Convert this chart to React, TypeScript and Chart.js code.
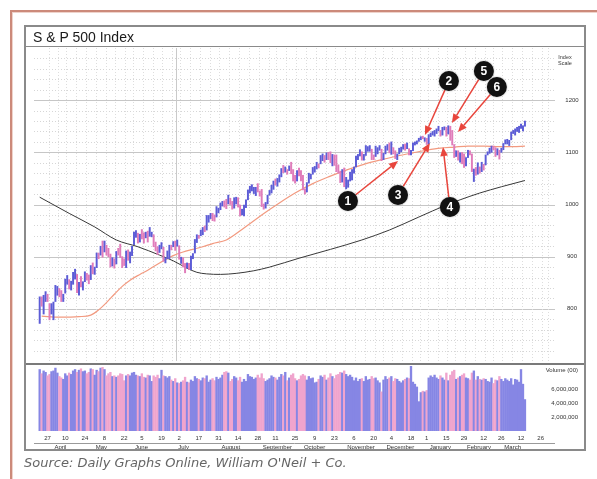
import React, { useEffect, useRef } from "react";
import { Chart, registerables } from "chart.js";

Chart.register(...registerables);

// ---------- calendar ----------
const monthKeys = ["2009-03", "2009-04", "2009-05", "2009-06", "2009-07", "2009-08", "2009-09", "2009-10", "2009-11", "2009-12", "2010-01", "2010-02", "2010-03"];
const monthLabels = ["", "April", "May", "June", "July", "August", "September", "October", "November", "December", "January", "February", "March"];
const monthDays = [
  "23 24 25 26 27 30 31",
  "1 2 3 6 7 8 9 13 14 15 16 17 20 21 22 23 24 27 28 29 30",
  "1 4 5 6 7 8 11 12 13 14 15 18 19 20 21 22 26 27 28 29",
  "1 2 3 4 5 8 9 10 11 12 15 16 17 18 19 22 23 24 25 26 29 30",
  "1 2 6 7 8 9 10 13 14 15 16 17 20 21 22 23 24 27 28 29 30 31",
  "3 4 5 6 7 10 11 12 13 14 17 18 19 20 21 24 25 26 27 28 31",
  "1 2 3 4 8 9 10 11 14 15 16 17 18 21 22 23 24 25 28 29 30",
  "1 2 5 6 7 8 9 12 13 14 15 16 19 20 21 22 23 26 27 28 29 30",
  "2 3 4 5 6 9 10 11 12 13 16 17 18 19 20 23 24 25 27 30",
  "1 2 3 4 7 8 9 10 11 14 15 16 17 18 21 22 23 24 28 29 30 31",
  "4 5 6 7 8 11 12 13 14 15 19 20 21 22 25 26 27 28 29",
  "1 2 3 4 5 8 9 10 11 12 16 17 18 19 22 23 24 25 26",
  "1 2 3 4 5 8 9 10 11 12 15 16 17 18 19 22 23 24 25 26 29 30 31",
];
const dayTickLabels = ["27", "10", "24", "8", "22", "5", "19", "2", "17", "31", "14", "28", "11", "25", "9", "23", "6", "20", "4", "18", "1", "15", "29", "12", "26", "12", "26"];
const solidLineDates = ["2009-06-30"];

// ---------- daily price (S&P 500) ----------
const lows = [
  772, 805, 790, 814, 814, 779, 790,
  779, 814, 826, 823, 814, 814, 830, 847, 838, 836, 847, 857, 831, 826, 842, 836, 852, 855, 848, 856, 867,
  866, 879, 896, 903, 899, 909, 903, 900, 880, 882, 878, 886, 903, 898, 879, 883, 879, 893, 888, 902,
  923, 937, 926, 928, 934, 926, 936, 928, 939, 938, 919, 911, 904, 908, 915, 891, 888, 896, 896, 913, 919, 912,
  920, 895, 887, 880, 869, 878, 875, 875, 896, 907, 927, 935, 940, 942, 948, 951, 966, 973, 969, 968, 976, 984,
  990, 997, 995, 992, 1001, 1000, 991, 993, 1001, 995, 978, 980, 978, 994, 1009, 1022, 1026, 1021, 1017, 1024, 1016,
  996, 991, 993, 1001, 1018, 1022, 1029, 1037, 1035, 1043, 1053, 1061, 1062, 1058, 1065, 1059, 1045, 1041, 1045, 1055, 1045,
  1028, 1020, 1024, 1041, 1049, 1058, 1062, 1068, 1070, 1078, 1084, 1081, 1086, 1086, 1080, 1074, 1075, 1063, 1060, 1042, 1043, 1034,
  1030, 1033, 1045, 1047, 1060, 1072, 1086, 1093, 1085, 1085, 1094, 1102, 1102, 1086, 1086, 1092, 1097, 1104, 1084, 1086,
  1097, 1104, 1099, 1096, 1097, 1088, 1086, 1097, 1101, 1106, 1104, 1107, 1095, 1095, 1103, 1114, 1116, 1121, 1124, 1126, 1121, 1115,
  1116, 1130, 1133, 1131, 1136, 1141, 1131, 1133, 1143, 1131, 1135, 1123, 1114, 1090, 1092, 1085, 1081, 1078, 1071,
  1074, 1090, 1095, 1063, 1044, 1056, 1058, 1060, 1063, 1066, 1076, 1095, 1098, 1100, 1105, 1092, 1095, 1087, 1100,
  1105, 1116, 1116, 1113, 1124, 1136, 1133, 1140, 1138, 1146, 1141, 1150,
];
const highs = [
  823, 823, 826, 833, 828, 810, 810,
  813, 845, 843, 839, 835, 828, 857, 864, 856, 853, 870, 876, 866, 851, 862, 852, 871, 868, 865, 883, 888,
  880, 907, 907, 920, 930, 930, 922, 916, 905, 898, 896, 910, 916, 924, 900, 896, 911, 913, 909, 920,
  947, 950, 945, 943, 952, 946, 947, 949, 956, 947, 942, 928, 919, 922, 927, 918, 898, 911, 922, 922, 929, 930,
  932, 921, 899, 898, 887, 888, 887, 901, 906, 933, 942, 941, 951, 956, 959, 979, 979, 983, 983, 980, 996, 993,
  1003, 1006, 1007, 1010, 1018, 1012, 1006, 1013, 1014, 1013, 999, 991, 999, 1009, 1028, 1035, 1038, 1033, 1033, 1040, 1026,
  1029, 1001, 1004, 1018, 1027, 1037, 1045, 1049, 1050, 1057, 1069, 1075, 1072, 1067, 1074, 1081, 1067, 1056, 1065, 1070, 1065,
  1056, 1030, 1042, 1060, 1058, 1071, 1073, 1081, 1078, 1094, 1097, 1094, 1099, 1100, 1101, 1096, 1095, 1095, 1076, 1064, 1067, 1070,
  1052, 1047, 1062, 1067, 1072, 1093, 1096, 1105, 1101, 1096, 1113, 1111, 1113, 1106, 1095, 1112, 1109, 1113, 1106, 1098,
  1112, 1115, 1118, 1120, 1109, 1103, 1097, 1108, 1110, 1115, 1116, 1118, 1107, 1104, 1118, 1120, 1122, 1127, 1130, 1131, 1128, 1127,
  1134, 1137, 1140, 1142, 1145, 1150, 1142, 1148, 1149, 1148, 1151, 1150, 1142, 1115, 1103, 1103, 1099, 1100, 1097,
  1090, 1104, 1103, 1097, 1068, 1071, 1080, 1072, 1081, 1077, 1095, 1101, 1108, 1112, 1112, 1109, 1107, 1104, 1108,
  1117, 1124, 1125, 1123, 1139, 1142, 1145, 1148, 1150, 1154, 1151, 1160,
];
const closes = [
  823, 806, 814, 833, 816, 787, 798,
  811, 834, 843, 836, 816, 825, 857, 859, 842, 852, 865, 870, 832, 850, 844, 852, 866, 858, 855, 874, 873,
  878, 907, 904, 920, 907, 929, 909, 908, 884, 893, 883, 910, 908, 904, 888, 887, 910, 893, 907, 919,
  943, 945, 932, 943, 940, 939, 942, 939, 945, 946, 924, 912, 911, 918, 921, 893, 895, 901, 920, 919, 927, 919,
  923, 896, 899, 881, 880, 883, 879, 901, 906, 933, 941, 940, 951, 955, 954, 976, 979, 982, 980, 975, 987, 988,
  1003, 1006, 1003, 997, 1011, 1007, 994, 1006, 1013, 1004, 980, 990, 997, 1007, 1026, 1026, 1028, 1028, 1031, 1029, 1021,
  998, 995, 1003, 1016, 1025, 1033, 1044, 1043, 1049, 1053, 1069, 1066, 1068, 1065, 1072, 1061, 1051, 1044, 1063, 1061, 1057,
  1030, 1025, 1041, 1055, 1058, 1066, 1072, 1076, 1073, 1092, 1097, 1088, 1098, 1091, 1081, 1093, 1080, 1067, 1063, 1043, 1066, 1036,
  1043, 1045, 1046, 1067, 1069, 1093, 1093, 1099, 1087, 1094, 1109, 1110, 1110, 1095, 1091, 1106, 1106, 1111, 1092, 1096,
  1109, 1109, 1100, 1106, 1103, 1092, 1096, 1102, 1106, 1114, 1108, 1109, 1096, 1103, 1114, 1118, 1121, 1127, 1128, 1126, 1126, 1115,
  1133, 1137, 1137, 1142, 1145, 1147, 1136, 1146, 1148, 1136, 1150, 1138, 1117, 1092, 1097, 1092, 1098, 1085, 1074,
  1089, 1103, 1097, 1063, 1066, 1057, 1071, 1068, 1078, 1076, 1095, 1100, 1107, 1109, 1108, 1095, 1105, 1103, 1105,
  1116, 1118, 1119, 1123, 1139, 1139, 1141, 1146, 1150, 1150, 1151, 1160,
];
// volume in millions (hundreds of shares)
const volumes = [
  8.8, 8.2, 8.6, 8.4, 7.9, 8.1, 8.5,
  8.6, 9.0, 8.3, 7.8, 7.6, 7.4, 8.2, 7.9, 8.3, 8.1, 8.6, 8.8, 8.4, 8.7, 8.9, 8.5, 8.6, 8.2, 8.4, 8.9, 8.8,
  8.0, 8.7, 8.5, 9.0, 9.1, 8.8, 7.9, 8.2, 8.4, 7.8, 7.9, 7.7, 7.9, 8.2, 8.1, 7.2, 7.9, 8.1, 7.9, 8.3,
  8.4, 8.0, 7.9, 7.8, 8.2, 7.7, 7.6, 8.0, 7.9, 7.1, 7.9, 7.7, 8.0, 7.5, 8.7, 7.9, 7.8, 7.6, 7.8, 7.3, 7.1, 7.5,
  6.9, 6.8, 7.0, 7.2, 7.7, 7.0, 6.9, 7.3, 7.1, 7.8, 7.5, 7.4, 7.2, 7.6, 7.5, 7.9, 7.0, 7.3, 7.5, 7.2, 7.7, 7.4,
  7.6, 8.0, 8.4, 8.5, 8.3, 7.1, 7.4, 7.8, 7.6, 7.2, 7.7, 7.0, 7.4, 7.1, 8.1, 7.8, 7.7, 7.4, 7.6, 8.0, 7.6,
  8.2, 7.5, 7.1, 7.3, 7.5, 7.9, 7.7, 7.6, 7.3, 7.7, 8.1, 7.9, 8.4, 7.2, 7.6, 8.0, 8.2, 7.5, 7.2, 7.4, 7.9,
  8.1, 7.9, 7.3, 7.8, 7.5, 7.6, 6.9, 7.0, 7.4, 7.9, 7.7, 8.0, 7.3, 7.6, 8.2, 7.8, 7.5, 8.0, 8.1, 8.4, 8.3, 8.6,
  8.1, 7.8, 8.0, 7.7, 7.2, 7.6, 7.1, 7.4, 7.5, 7.1, 7.8, 7.3, 7.4, 7.8, 7.5, 7.6, 7.2, 6.9, 5.6, 7.3,
  7.8, 7.4, 7.6, 7.8, 7.1, 7.5, 7.4, 7.1, 6.9, 7.2, 7.4, 7.6, 7.5, 9.9, 7.0, 6.7, 6.3, 4.2, 5.5, 5.7, 5.6, 5.8,
  7.6, 7.9, 7.7, 8.0, 7.6, 7.4, 7.9, 7.6, 7.3, 8.3, 7.2, 8.0, 8.5, 8.7, 7.4, 7.6, 7.8, 8.0, 8.2,
  7.6, 7.5, 7.3, 8.3, 8.6, 7.3, 7.8, 7.4, 7.3, 7.5, 7.4, 7.1, 7.0, 7.6, 6.8, 7.3, 7.2, 7.8, 7.4,
  7.1, 7.5, 7.3, 7.1, 7.5, 6.6, 7.4, 7.3, 7.0, 8.8, 6.7, 4.5,
];

// moving averages (trading-day index, value)
const ma50Idx = [1, 10, 20, 26, 30, 34, 38, 42, 46, 51, 55, 61, 68, 73, 78, 83, 88, 95, 104, 113, 122, 130, 139, 147, 156, 165, 173, 182, 190, 197, 204, 211, 218, 226, 234, 241, 247];
const ma50Val = [786, 784, 785, 788, 798, 812, 828, 843, 855, 866, 874, 888, 902, 909, 914, 919, 925, 932, 955, 980, 1003, 1022, 1040, 1053, 1066, 1077, 1085, 1093, 1099, 1104, 1108, 1110, 1112, 1112, 1111, 1111, 1112];
const ma200Idx = [0, 15, 28, 39, 50, 61, 68, 75, 80, 85, 92, 100, 109, 117, 132, 148, 164, 178, 193, 207, 214, 224, 235, 247];
const ma200Val = [1014, 983, 957, 932, 919, 903, 892, 878, 870, 867, 866, 868, 873, 880, 897, 914, 932, 951, 976, 999, 1009, 1022, 1034, 1046];

const priceTicks = [800, 900, 1000, 1100, 1200];
const volumeTicks = [2, 4, 6];
const volumeTickLabels = ["2,000,000", "4,000,000", "6,000,000"];

// numbered call-outs: circle anchor and arrow tip (trading-day index, price)
const noteLabels = ["1", "2", "3", "4", "5", "6"];
const noteX = [156.9, 208.3, 182.4, 208.8, 226.1, 232.7];
const noteY = [1006.7, 1236.7, 1018.2, 995.2, 1255.9, 1225.2];
const tipX = [182.4, 196.1, 198.6, 205.3, 209.8, 212.9];
const tipY = [1083.4, 1133.2, 1117.9, 1110.2, 1156.2, 1139.0];

// ---------- derived ----------
type TD = { y: number; m: number; d: number; mi: number; t: number };
const tradingDays: TD[] = [];
monthKeys.forEach((k, mi) => {
  const [y, m] = k.split("-").map(Number);
  monthDays[mi].split(" ").forEach((s) => {
    const d = Number(s);
    tradingDays.push({ y, m, d, mi, t: Date.UTC(y, m - 1, d) / 86400000 });
  });
});
const weekKey = (t: number) => Math.floor((t + 3) / 7);
const weekEnds: number[] = [];
tradingDays.forEach((td, i) => {
  const nx = tradingDays[i + 1];
  if (!nx || weekKey(nx.t) !== weekKey(td.t)) weekEnds.push(i);
});
const monthStarts: number[] = monthKeys.map((_, mi) => tradingDays.findIndex((td) => td.mi === mi));
const solidLineIdx = solidLineDates.map((s) => {
  const [y, m, d] = s.split("-").map(Number);
  return tradingDays.findIndex((td) => td.y === y && td.m === m && td.d === d);
});
const isUp = closes.map((c, i) => i === 0 || c >= closes[i - 1]);

const X_MIN = -2.9;
const X_MAX = 262.3;
const FONT = '"Liberation Sans", Arial, sans-serif';

const priceDecor = {
  id: "priceDecor",
  beforeDatasetsDraw(chart: any) {
    const { ctx, chartArea: a, scales } = chart;
    const xs = scales.x;
    const ys = scales.y;
    ctx.save();
    ctx.lineWidth = 1;
    for (let v = 720; v < 1300; v += 20) {
      const y = Math.round(ys.getPixelForValue(v)) + 0.5;
      ctx.beginPath();
      if (v % 100 === 0) {
        ctx.setLineDash([]);
        ctx.strokeStyle = "#c6c6c6";
      } else {
        ctx.setLineDash([1, 2]);
        ctx.strokeStyle = "#d6d6d6";
      }
      ctx.moveTo(a.left, y);
      ctx.lineTo(a.right, y);
      ctx.stroke();
    }
    ctx.setLineDash([1, 2]);
    ctx.strokeStyle = "#dddddd";
    weekEnds.forEach((i) => {
      const x = Math.round(xs.getPixelForValue(i + 0.5)) + 0.5;
      if (x < a.left || x > a.right) return;
      ctx.beginPath();
      ctx.moveTo(x, a.top);
      ctx.lineTo(x, a.bottom);
      ctx.stroke();
    });
    ctx.setLineDash([]);
    ctx.strokeStyle = "#cacaca";
    solidLineIdx.forEach((i) => {
      const x = Math.round(xs.getPixelForValue(i + 0.5)) + 0.5;
      ctx.beginPath();
      ctx.moveTo(x, a.top);
      ctx.lineTo(x, a.bottom);
      ctx.stroke();
    });
    ctx.restore();
  },
  afterDraw(chart: any) {
    const { ctx, chartArea: a, scales } = chart;
    const xs = scales.x;
    const ys = scales.y;
    ctx.save();
    ctx.fillStyle = "#333";
    ctx.font = `6px ${FONT}`;
    ctx.textAlign = "center";
    ctx.textBaseline = "middle";
    priceTicks.forEach((v) => ctx.fillText(String(v), a.right + 17, ys.getPixelForValue(v)));
    ctx.font = `5.5px ${FONT}`;
    ctx.fillText("Index", a.right + 10, a.top + 9);
    ctx.fillText("Scale", a.right + 10, a.top + 15);

    // arrows
    const r = 10;
    const red = "#e8453c";
    noteLabels.forEach((_, k) => {
      const cx = xs.getPixelForValue(noteX[k]);
      const cy = ys.getPixelForValue(noteY[k]);
      const tx = xs.getPixelForValue(tipX[k]);
      const ty = ys.getPixelForValue(tipY[k]);
      const dx = tx - cx;
      const dy = ty - cy;
      const len = Math.hypot(dx, dy);
      const ux = dx / len;
      const uy = dy / len;
      const head = 9;
      const hw = 3.8;
      const bx = tx - ux * head;
      const by = ty - uy * head;
      ctx.strokeStyle = red;
      ctx.lineWidth = 1.5;
      ctx.beginPath();
      ctx.moveTo(cx + ux * r, cy + uy * r);
      ctx.lineTo(bx, by);
      ctx.stroke();
      ctx.fillStyle = red;
      ctx.beginPath();
      ctx.moveTo(tx, ty);
      ctx.lineTo(bx - uy * hw, by + ux * hw);
      ctx.lineTo(bx + uy * hw, by - ux * hw);
      ctx.closePath();
      ctx.fill();
    });
    // circles
    noteLabels.forEach((lab, k) => {
      const cx = xs.getPixelForValue(noteX[k]);
      const cy = ys.getPixelForValue(noteY[k]);
      ctx.save();
      ctx.shadowColor = "rgba(0,0,0,0.35)";
      ctx.shadowBlur = 2;
      ctx.fillStyle = "#111";
      ctx.beginPath();
      ctx.arc(cx, cy, r, 0, Math.PI * 2);
      ctx.fill();
      ctx.restore();
      ctx.fillStyle = "#fff";
      ctx.font = `bold 12px ${FONT}`;
      ctx.textAlign = "center";
      ctx.textBaseline = "middle";
      ctx.fillText(lab, cx, cy + 1);
    });
    ctx.restore();
  },
};

const volumeDecor = {
  id: "volumeDecor",
  afterDraw(chart: any) {
    const { ctx, chartArea: a, scales } = chart;
    const xs = scales.x;
    const ys = scales.y;
    ctx.save();
    ctx.fillStyle = "#333";
    ctx.font = `6px ${FONT}`;
    ctx.textBaseline = "middle";
    ctx.textAlign = "right";
    ctx.fillText("Volume (00)", a.right + 23, a.top + 4);
    volumeTicks.forEach((v, k) => ctx.fillText(volumeTickLabels[k], a.right + 23, ys.getPixelForValue(v)));
    ctx.textAlign = "center";
    dayTickLabels.forEach((lab, k) => {
      const i = weekEnds[2 * k];
      ctx.fillText(lab, xs.getPixelForValue(i), a.bottom + 7);
    });
    ctx.strokeStyle = "#9a9a9a";
    ctx.lineWidth = 1;
    ctx.beginPath();
    ctx.moveTo(a.left, a.bottom + 12.5);
    ctx.lineTo(a.right, a.bottom + 12.5);
    ctx.stroke();
    ctx.textAlign = "left";
    monthLabels.forEach((lab, mi) => {
      if (!lab) return;
      ctx.fillText(lab, xs.getPixelForValue(monthStarts[mi]) + 1, a.bottom + 16);
    });
    ctx.restore();
  },
};

export default function App() {
  const priceRef = useRef<HTMLCanvasElement>(null);
  const volRef = useRef<HTMLCanvasElement>(null);

  useEffect(() => {
    const pc = priceRef.current!;
    const vc = volRef.current!;
    const price = new Chart(pc, {
      type: "bar",
      data: {
        datasets: [
          {
            type: "bar",
            data: lows.map((l, i) => ({ x: i, y: [l, highs[i]] })),
            backgroundColor: isUp.map((u) => (u ? "#5c5cd6" : "#e07cba")),
            barThickness: 1.3,
            order: 0,
          } as any,
          {
            type: "line",
            data: ma50Idx.map((x, i) => ({ x, y: ma50Val[i] })),
            borderColor: "#f29a80",
            borderWidth: 1.2,
            pointRadius: 0,
            cubicInterpolationMode: "monotone",
            order: 1,
          } as any,
          {
            type: "line",
            data: ma200Idx.map((x, i) => ({ x, y: ma200Val[i] })),
            borderColor: "#383838",
            borderWidth: 1,
            pointRadius: 0,
            cubicInterpolationMode: "monotone",
            order: 2,
          } as any,
        ],
      },
      options: {
        responsive: false,
        animation: false,
        devicePixelRatio: 1,
        layout: { padding: { left: 9, right: 30, top: 1, bottom: 2 } },
        plugins: { legend: { display: false }, tooltip: { enabled: false } },
        scales: {
          x: { type: "linear", min: X_MIN, max: X_MAX, offset: false, display: false },
          y: { min: 700, max: 1300, display: false },
        },
      },
      plugins: [priceDecor],
    } as any);

    const volume = new Chart(vc, {
      type: "bar",
      data: {
        datasets: [
          {
            data: volumes.map((v, i) => ({ x: i, y: v })),
            backgroundColor: isUp.map((u) => (u ? "#8686e4" : "#f0a4cd")),
            barThickness: 1.7,
          } as any,
        ],
      },
      options: {
        responsive: false,
        animation: false,
        devicePixelRatio: 1,
        layout: { padding: { left: 9, right: 30, top: 2, bottom: 20 } },
        plugins: { legend: { display: false }, tooltip: { enabled: false } },
        scales: {
          x: { type: "linear", min: X_MIN, max: X_MAX, offset: false, display: false },
          y: { min: 0, max: 9.3, display: false },
        },
      },
      plugins: [volumeDecor],
    } as any);

    return () => {
      price.destroy();
      volume.destroy();
    };
  }, []);

  return (
    <div style={{ position: "fixed", left: 0, top: 0, width: 597, height: 479, overflow: "hidden", background: "#fff" }}>
      <div
        style={{
          position: "absolute",
          left: 10,
          top: 10,
          width: 640,
          height: 540,
          border: "2px solid #cc8a7a",
          boxShadow: "inset 1px 1px 0 #efd3cb",
          boxSizing: "border-box",
        }}
      />
      <canvas ref={priceRef} width={560} height={316} style={{ position: "absolute", left: 25, top: 47 }} />
      <canvas ref={volRef} width={560} height={87} style={{ position: "absolute", left: 25, top: 364 }} />
      <div
        style={{
          position: "absolute",
          left: 24,
          top: 25,
          width: 562,
          height: 426,
          border: "2px solid #8a8a8a",
          boxSizing: "border-box",
          pointerEvents: "none",
        }}
      />
      <div style={{ position: "absolute", left: 26, top: 46, width: 558, height: 1, background: "#8a8a8a" }} />
      <div style={{ position: "absolute", left: 26, top: 363, width: 558, height: 2, background: "#7a7a7a" }} />
      <div
        style={{
          position: "absolute",
          left: 33,
          top: 28,
          font: `14px ${FONT}`,
          lineHeight: "18px",
          color: "#1a1a1a",
          whiteSpace: "nowrap",
        }}
      >
        S &amp; P 500 Index
      </div>
      <div
        style={{
          position: "absolute",
          left: 24,
          top: 455,
          font: `italic 13px "DejaVu Sans", Verdana, sans-serif`,
          lineHeight: "16px",
          color: "#666",
          whiteSpace: "nowrap",
        }}
      >
        Source: Daily Graphs Online, William O'Neil + Co.
      </div>
    </div>
  );
}
